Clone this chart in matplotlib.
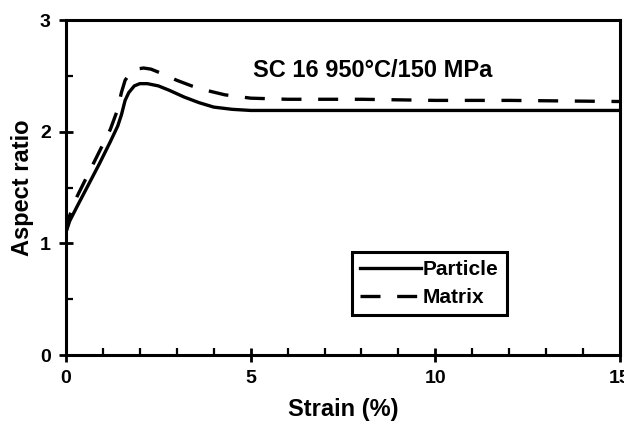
import numpy as np
import matplotlib
matplotlib.use('Agg')
import matplotlib.pyplot as plt
from matplotlib.ticker import MultipleLocator

plt.rcParams['font.family'] = ['Liberation Sans', 'DejaVu Sans']
plt.rcParams['font.weight'] = 'bold'

# values
strain_particle = [0, 0.1, 0.3, 0.6, 0.9, 1.2, 1.4, 1.5, 1.6, 1.7, 1.85, 2.0, 2.2,
                   2.5, 2.8, 3.2, 3.6, 4.0, 4.5, 5.0, 6, 8, 10, 12, 15]
ar_particle = [1.1, 1.2, 1.33, 1.52, 1.71, 1.91, 2.05, 2.15, 2.28, 2.35, 2.41, 2.43, 2.43,
               2.41, 2.37, 2.31, 2.26, 2.22, 2.2, 2.19, 2.19, 2.19, 2.19, 2.19, 2.19]

strain_matrix = [0, 0.1, 0.3, 0.6, 0.9, 1.2, 1.4, 1.5, 1.6, 1.75, 1.9, 2.1, 2.3,
                 2.6, 3.0, 3.4, 3.8, 4.3, 5.0, 6, 8, 10, 12, 15]
ar_matrix = [1.1, 1.25, 1.42, 1.62, 1.82, 2.02, 2.2, 2.35, 2.46, 2.53, 2.56, 2.57, 2.56,
             2.52, 2.46, 2.41, 2.37, 2.33, 2.3, 2.29, 2.29, 2.28, 2.28, 2.27]

fig = plt.figure(figsize=(6.24, 4.32), dpi=100)
ax = fig.add_axes([66/624, 1 - 355/432, (620 - 66)/624, (355 - 20)/432])

ax.plot(strain_particle, ar_particle, color='black', lw=2.4, label='Particle')
ax.plot(strain_matrix, ar_matrix, color='black', lw=2.4, dashes=(6, 5), label='Matrix')

ax.set_xlim(0, 15)
ax.set_ylim(0, 3)
ax.xaxis.set_major_locator(MultipleLocator(5))
ax.xaxis.set_minor_locator(MultipleLocator(1))
ax.yaxis.set_major_locator(MultipleLocator(1))
ax.yaxis.set_minor_locator(MultipleLocator(0.5))
ax.tick_params(which='major', direction='inout', length=10, width=2, labelsize=14, pad=6)
ax.tick_params(which='minor', direction='in', length=5, width=1.6)
for s in ax.spines.values():
    s.set_linewidth(2.2)

ax.set_xlabel('Strain (%)', fontsize=17, fontweight='bold', labelpad=8)
ax.set_ylabel('Aspect ratio', fontsize=17, fontweight='bold', labelpad=4)

ax.text(5.06, 2.55, 'SC 16 950°C/150 MPa', fontsize=17, fontweight='bold',
        ha='left', va='center')

leg = ax.legend(loc='upper left', bbox_to_anchor=(0.516, 0.307), borderaxespad=0,
                fontsize=15, handlelength=2.9, handletextpad=0.1, labelspacing=0.4,
                fancybox=False, framealpha=1, edgecolor='black', borderpad=0.4)
leg.get_frame().set_linewidth(2.2)

fig.savefig('out.png', dpi=100)
